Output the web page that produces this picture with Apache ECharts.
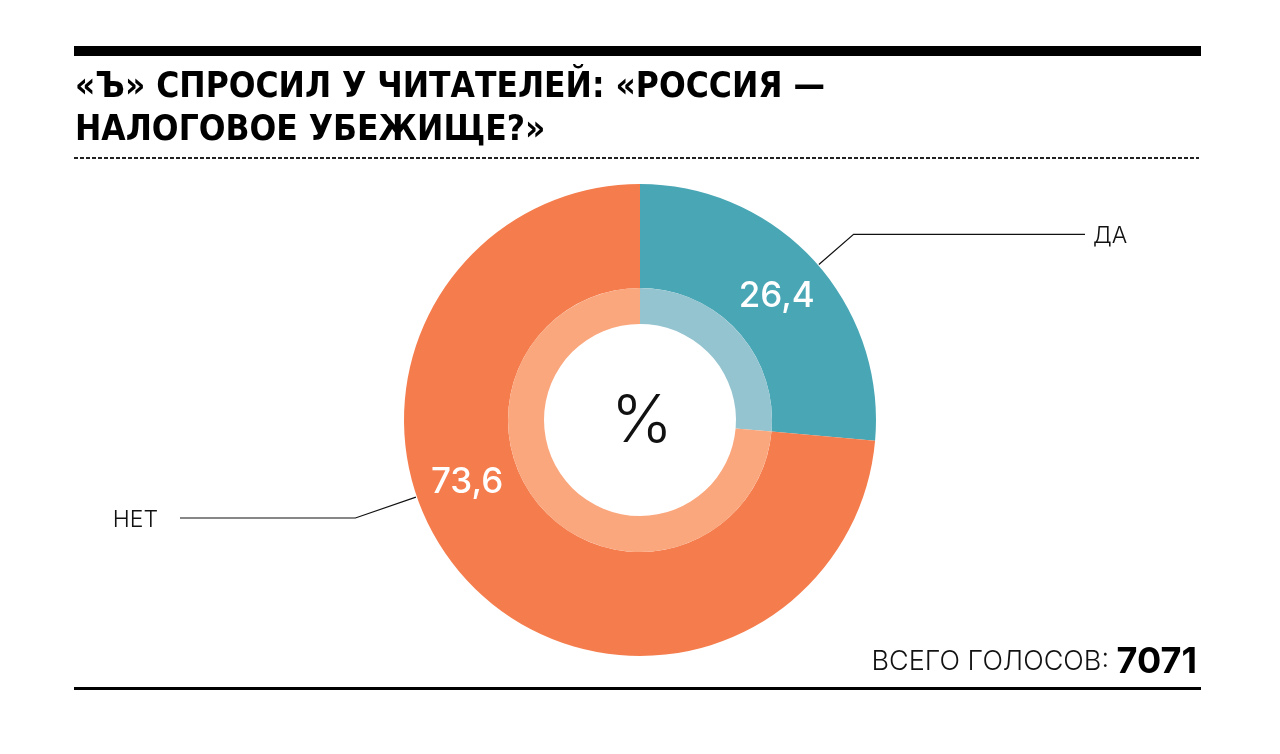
<!DOCTYPE html>
<html>
<head>
<meta charset="utf-8">
<title>Россия — налоговое убежище?</title>
<script src="https://cdn.jsdelivr.net/npm/echarts@6/dist/echarts.min.js"></script>
<style>
  html, body { margin: 0; padding: 0; background: #fff; }
  #viz { width: 1280px; height: 754px; }
</style>
</head>
<body>
<div id="viz"></div>
<script>
// data
var answers = ['ДА', 'НЕТ'];
var shares = [26.4, 73.6];
var totalVotes = 7071;

var colorsOuter = ['#49a7b5', '#f57d4d'];
var colorsInner = ['#94c4d0', '#fba77d'];

// geometry of the donut
var CX = 640, CY = 420;
var R_OUT = 236, R_RING = 132, R_HOLE = 96;
// the designer put the labels of the big slice off its middle
var labelAngle = [41, 199];
var kneeLen = [47, 65];

function polar(deg, r) {
    var a = deg * Math.PI / 180;
    return [CX + r * Math.cos(a), CY - r * Math.sin(a)];
}

function fmt(v) {
    return String(v).replace('.', ',');
}

function plotrun() {
    var dom = document.getElementById('viz');
    var myChart = echarts.init(dom);

    var outerData = [], innerData = [], nameData = [];
    for (var i = 0; i < answers.length; i++) {
        outerData.push({ name: answers[i], value: shares[i], itemStyle: { color: colorsOuter[i] } });
        innerData.push({ name: answers[i], value: shares[i], itemStyle: { color: colorsInner[i] } });
        nameData.push({ name: answers[i], value: shares[i] });
    }

    var option = {
        animation: false,
        backgroundColor: '#fff',
        graphic: [
            { type: 'rect', shape: { x: 74, y: 46, width: 1127, height: 10 }, style: { fill: '#000' } },
            { type: 'line', shape: { x1: 74, y1: 158, x2: 1199, y2: 158 },
              style: { stroke: '#222', lineWidth: 2, lineDash: [4, 2] } },
            { type: 'rect', shape: { x: 74, y: 687, width: 1127, height: 3 }, style: { fill: '#000' } },
            { type: 'text', x: 75, y: 86,
              style: { text: '«Ъ» СПРОСИЛ У ЧИТАТЕЛЕЙ: «РОССИЯ —\nНАЛОГОВОЕ УБЕЖИЩЕ?»',
                       fill: '#000', font: 'bold 35px "Liberation Sans Narrow", "DejaVu Sans Condensed", sans-serif',
                       lineHeight: 43, verticalAlign: 'top' }, y: 66 },
            { type: 'text', x: CX + 2, y: CY + 2,
              style: { text: '%', fill: '#111', font: '300 66px Inter, "Noto Sans", sans-serif',
                       align: 'center', verticalAlign: 'middle' } },
            { type: 'text', x: 1197, y: 662,
              style: { text: '{t|ВСЕГО ГОЛОСОВ: }{n|' + totalVotes + '}', align: 'right', verticalAlign: 'middle',
                       rich: {
                           t: { fontFamily: 'Inter, "Noto Sans", sans-serif', fontWeight: 300, fontSize: 27, fill: '#111' },
                           n: { fontFamily: 'Inter, "Liberation Sans", sans-serif', fontWeight: 700, fontSize: 36, fill: '#000' }
                       } } }
        ],
        series: [{
            name: 'outer',
            type: 'pie',
            center: [CX, CY],
            radius: [R_RING, R_OUT],
            startAngle: 90,
            clockwise: true,
            silent: true,
            label: {
                show: true,
                position: 'inside',
                formatter: function (p) { return fmt(p.value); },
                color: '#fff',
                fontFamily: 'Inter, "Noto Sans", sans-serif',
                fontWeight: 500,
                fontSize: 35
            },
            labelLayout: function (p) {
                var pt = polar(labelAngle[p.dataIndex] + 1, (R_RING + R_OUT) / 2);
                return { x: pt[0], y: pt[1], align: 'center', verticalAlign: 'middle' };
            },
            labelLine: { show: false },
            data: outerData
        }, {
            name: 'inner',
            type: 'pie',
            center: [CX, CY],
            radius: [R_HOLE, R_RING],
            startAngle: 90,
            clockwise: true,
            silent: true,
            label: { show: false },
            labelLine: { show: false },
            data: innerData
        }, {
            name: 'names',
            type: 'pie',
            center: [CX, CY],
            radius: [0, R_OUT],
            startAngle: 90,
            clockwise: true,
            silent: true,
            itemStyle: { color: 'rgba(0,0,0,0)' },
            label: {
                show: true,
                position: 'outside',
                formatter: '{b}',
                color: '#111',
                fontFamily: 'Inter, "Noto Sans", sans-serif',
                fontWeight: 300,
                fontSize: 23
            },
            labelLine: { show: true, lineStyle: { color: '#111', width: 1.2 } },
            labelLayout: function (p) {
                var ang = labelAngle[p.dataIndex];
                var start = polar(ang, R_OUT + 1);
                var knee = polar(ang, R_OUT + kneeLen[p.dataIndex]);
                var right = Math.cos(ang * Math.PI / 180) > 0;
                var endX = right ? 1085 : 180;
                return {
                    x: right ? endX + 8 : endX - 22,
                    y: knee[1] + 2,
                    align: right ? 'left' : 'right',
                    verticalAlign: 'middle',
                    labelLinePoints: [start, knee, [endX, knee[1]]]
                };
            },
            data: nameData
        }]
    };
    myChart.setOption(option, true);
}

plotrun();
</script>
</body>
</html>
